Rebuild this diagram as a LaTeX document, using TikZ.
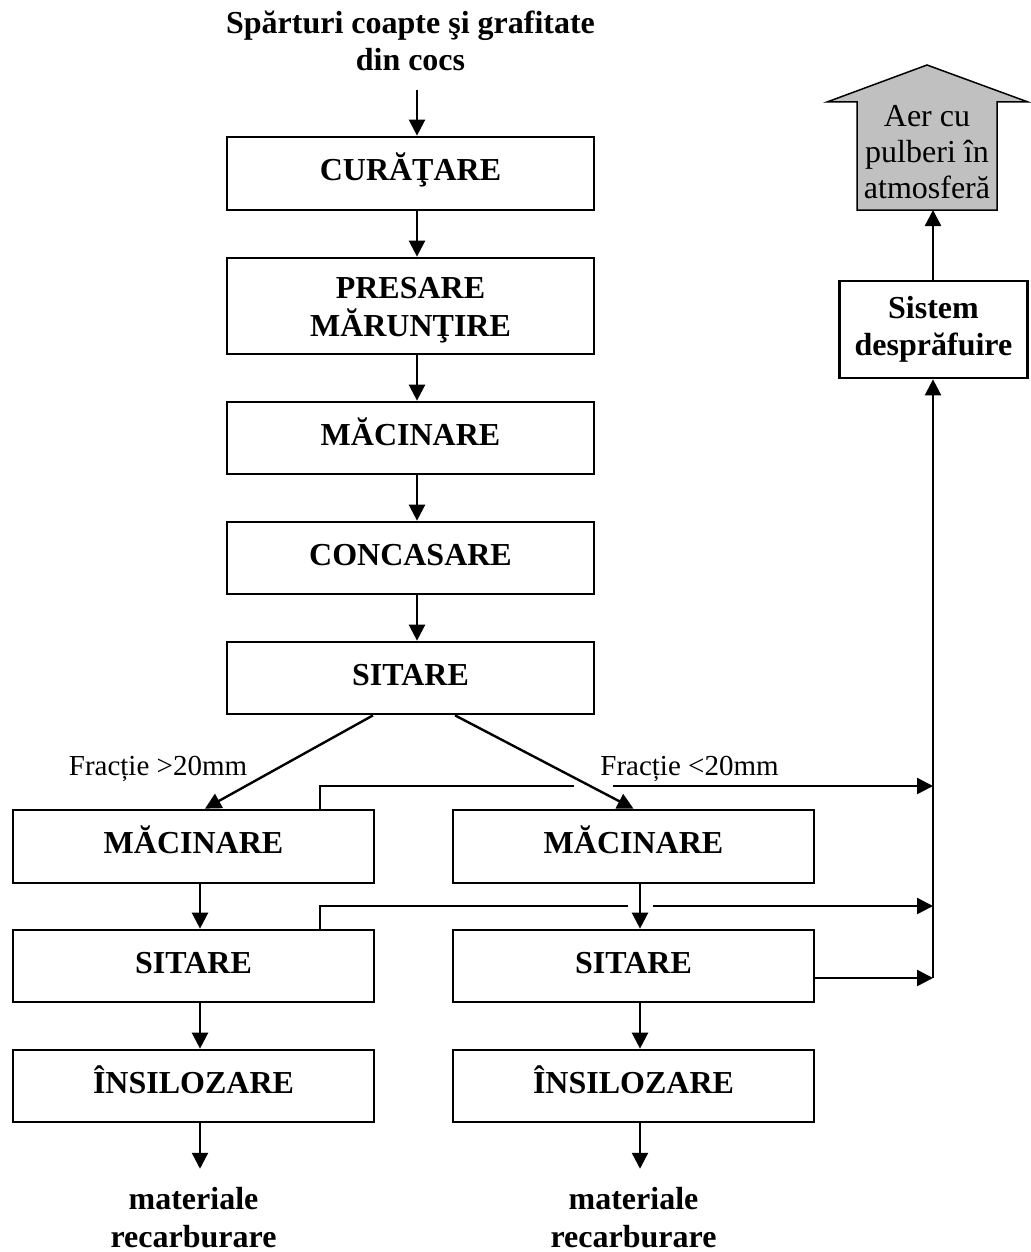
\documentclass[tikz,border=0pt]{standalone}
\usepackage{fontspec}
\setmainfont{Liberation Serif}
\usetikzlibrary{arrows.meta}
\definecolor{aergray}{HTML}{C0C0C0}
\newcommand\fbig{\fontsize{32pt}{37.5pt}\selectfont\bfseries}
\newcommand\freg{\fontsize{32pt}{36pt}\selectfont}
\newcommand\flbl{\fontsize{29pt}{34pt}\selectfont}
\tikzset{
  box/.style={draw, line width=2.7pt, minimum width=367pt, minimum height=72pt,
    inner sep=0pt, font=\fbig, align=center},
  one/.style={text height=22pt, text depth=8pt},
  arr/.style={line width=2.4pt, -{Triangle[length=16pt,width=16pt]}},
  thinl/.style={line width=1.4pt},
  txt/.style={inner sep=0pt, font=\fbig, align=center},
  lbl/.style={inner sep=0pt, font=\flbl}
}
\begin{document}
\begin{tikzpicture}[x=1pt,y=-1pt]
\useasboundingbox (0,0) rectangle (1030,1252);

% title
\node[txt] (title) at (410.5,40.8) {Spărturi coapte şi grafitate\\din cocs};

% main column
\node[box,one,minimum height=73pt] (cur) at (410.5,173.5) {CURĂŢARE};
\node[box,minimum height=96pt] (pres) at (410.5,306) {\rule{0pt}{29.3pt}PRESARE\\MĂRUNŢIRE};
\node[box,one] (mac1) at (410.5,438) {MĂCINARE};
\node[box,one] (conc) at (410.5,558) {CONCASARE};
\node[box,one] (sit1) at (410.5,678) {SITARE};

% two branches
\node[box,one,minimum width=361pt,minimum height=73pt] (macL) at (193.5,846.5) {MĂCINARE};
\node[box,one,minimum width=361pt,minimum height=73pt] (macR) at (633.5,846.5) {MĂCINARE};
\node[box,one,minimum width=361pt] (sitL) at (193.5,966) {SITARE};
\node[box,one,minimum width=361pt] (sitR) at (633.5,966) {SITARE};
\node[box,one,minimum width=361pt] (insL) at (193.5,1086) {ÎNSILOZARE};
\node[box,one,minimum width=361pt] (insR) at (633.5,1086) {ÎNSILOZARE};

\node[txt] (matL) at (193.5,1217.5) {materiale\\recarburare};
\node[txt] (matR) at (633.5,1217.5) {materiale\\recarburare};

% labels
\node[lbl,anchor=base] (f1) at (158,775) {Fracție >20mm};
\node[lbl,anchor=base] (f2) at (689.5,775) {Fracție <20mm};

% dust system
\node[box,minimum width=188pt,minimum height=97pt] (sistem) at (933.5,329.5) {Sistem\\desprăfuire};

% big arrow to atmosphere
\draw[line width=1.5pt, fill=aergray, line join=miter]
  (857,210) -- (857,102) -- (827,102) -- (927,65) -- (1028,102) -- (997,102) -- (997,210) -- cycle;
\begin{scope}
\clip (857,100) rectangle (997,201);
\node[inner sep=0pt, font=\freg, align=center] (aer) at (927,152.5) {Aer cu\\pulberi în\\atmosferă};
\end{scope}
\coordinate (aerb) at (933,210);

% main column arrows
\draw[arr] ([xshift=6.5pt,yshift=-18.5pt]title.south) -- ([xshift=6.5pt]cur.north);
\draw[arr] ([xshift=6.5pt]cur.south) -- ([xshift=6.5pt]pres.north);
\draw[arr] ([xshift=6.5pt]pres.south) -- ([xshift=6.5pt]mac1.north);
\draw[arr] ([xshift=6.5pt]mac1.south) -- ([xshift=6.5pt]conc.north);
\draw[arr] ([xshift=6.5pt]conc.south) -- ([xshift=6.5pt]sit1.north);

% split
\draw[arr] ([xshift=-37.5pt]sit1.south) -- ([xshift=11.5pt]macL.north);
\draw[arr] ([xshift=44.5pt]sit1.south) -- (macR.north);

% branch arrows
\draw[arr] ([xshift=6.5pt]macL.south) -- ([xshift=6.5pt]sitL.north);
\draw[arr] ([xshift=6.5pt]sitL.south) -- ([xshift=6.5pt]insL.north);
\draw[arr] ([xshift=6.5pt]insL.south) -- ([xshift=6.5pt,yshift=18.5pt]matL.north);
\draw[arr] ([xshift=6.5pt]macR.south) -- ([xshift=6.5pt]sitR.north);
\draw[arr] ([xshift=6.5pt]sitR.south) -- ([xshift=6.5pt]insR.north);
\draw[arr] ([xshift=6.5pt]insR.south) -- ([xshift=6.5pt,yshift=18.5pt]matR.north);

% dust collection lines
\coordinate (g1l) at (574,786);
\coordinate (g1r) at (613,786);
\coordinate (j1) at (933,786);
\coordinate (g2l) at (628,906);
\coordinate (g2r) at (653,906);
\coordinate (j2) at (933,906);
\coordinate (j3) at (933,978);
\draw[thinl] ([xshift=126.5pt]macL.north) |- (g1l);
\draw[arr] (g1r) -- (j1);
\draw[thinl] ([xshift=126.5pt]sitL.north) |- (g2l);
\draw[arr] (g2r) -- (j2);
\draw[arr] (sitR.east |- j3) -- (j3);
\draw[arr] (j3) -- (j3 |- sistem.south);
\draw[arr] (sistem.north -| aerb) -- (aerb);
\end{tikzpicture}
\end{document}
